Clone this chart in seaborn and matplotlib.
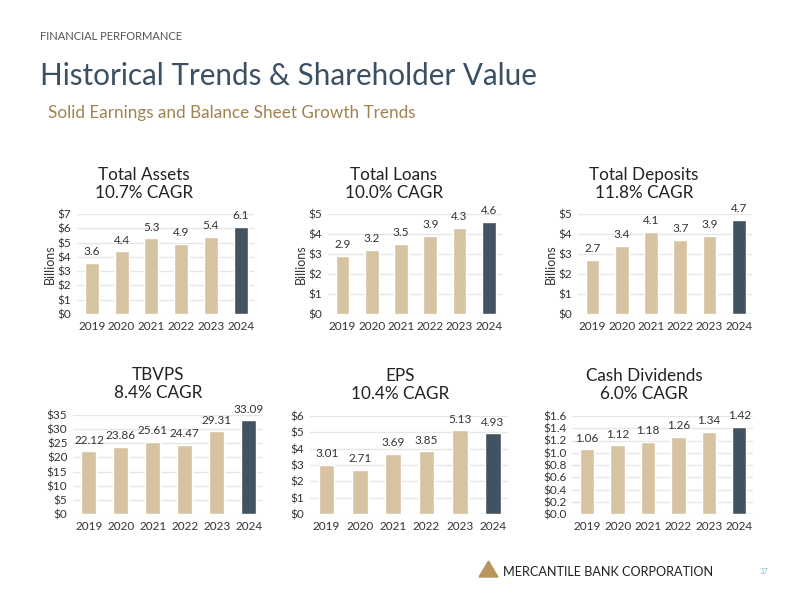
import numpy as np
import pandas as pd
import matplotlib
matplotlib.use('Agg')
import matplotlib.pyplot as plt
import seaborn as sns

sns.set_style('white')
plt.rcParams['font.family'] = ['Lato', 'DejaVu Sans']

# -----------------------

years = ['2019', '2020', '2021', '2022', '2023', '2024']

assets = [3.6, 4.4, 5.3, 4.9, 5.4, 6.1]
loans = [2.9, 3.2, 3.5, 3.9, 4.3, 4.6]
deposits = [2.7, 3.4, 4.1, 3.7, 3.9, 4.7]
tbvps = [22.12, 23.86, 25.61, 24.47, 29.31, 33.09]
eps = [3.01, 2.71, 3.69, 3.85, 5.13, 4.93]
dividends = [1.06, 1.12, 1.18, 1.26, 1.34, 1.42]

titles = ['Total Assets', 'Total Loans', 'Total Deposits', 'TBVPS', 'EPS', 'Cash Dividends']
cagr = ['10.7% CAGR', '10.0% CAGR', '11.8% CAGR', '8.4% CAGR', '10.4% CAGR', '6.0% CAGR']

tan = '#D6C3A1'
dark = '#435260'
txt = '#333333'

# -----------------------

W, H = 800, 600
fig = plt.figure(figsize=(8, 6), dpi=100)

def px_axes(x0, x1, y_top, y_bot):
	return fig.add_axes([x0 / W, 1 - y_bot / H, (x1 - x0) / W, (y_bot - y_top) / H])

# values, decimals, ymax, yticks, tick fmt, ylabel, axes box (px), title x
panels = [
	(assets, 1, 7, np.arange(0, 8, 1), '${:.0f}', 'Billions', (77, 254, 214, 314), 144),
	(loans, 1, 5, np.arange(0, 6, 1), '${:.0f}', 'Billions', (328, 502, 214, 314), 394),
	(deposits, 1, 5, np.arange(0, 6, 1), '${:.0f}', 'Billions', (578, 752, 214, 314), 644),
	(tbvps, 2, 35, np.arange(0, 40, 5), '${:.0f}', None, (73, 263, 415, 514), 158),
	(eps, 2, 6, np.arange(0, 7, 1), '${:.0f}', None, (310, 508, 416, 514), 400),
	(dividends, 2, 1.6, np.arange(0, 1.8, 0.2), '${:.1f}', None, (572, 753, 416, 514), 644),
]

for i, (vals, dec, ymax, yt, tfmt, ylab, box, tx) in enumerate(panels):
	ax = px_axes(*box)
	df = pd.DataFrame({'year': years, 'value': vals})
	sns.barplot(data=df, x='year', y='value', hue='year',
		palette=[tan] * 5 + [dark], legend=False, width=0.47,
		saturation=1, errorbar=None, ax=ax)
	ax.set_xlim(-0.5, 5.45)
	ax.set_ylim(0, ymax)
	ax.set_yticks(yt)
	ax.set_yticklabels([tfmt.format(v) for v in yt])
	ax.set_xlabel('')
	ax.set_ylabel(ylab if ylab else '', fontsize=9, color=txt, labelpad=1)
	ax.grid(axis='y', color='#E6E6E6', lw=1)
	ax.set_axisbelow(True)
	sns.despine(ax=ax, left=True, bottom=True)
	ax.tick_params(axis='both', length=0, labelsize=8.5, colors=txt)
	ax.tick_params(axis='y', pad=4)
	ax.tick_params(axis='x', pad=5)
	fmt = '{:.%df}' % dec
	for p in ax.patches:
		h = p.get_height()
		if not np.isfinite(h) or p.get_width() == 0:
			continue
		ax.annotate(fmt.format(h), (p.get_x() + p.get_width() / 2, h),
			xytext=(0, 4), textcoords='offset points', ha='center', va='bottom',
			fontsize=8.5, color=txt)
	ty = box[2] - 40 + (1 if i < 3 else 0)
	fig.text(tx / W, 1 - ty / H, titles[i], ha='center', va='center',
		fontsize=12.3, color='#222222')
	fig.text(tx / W, 1 - (ty + 18) / H, cagr[i], ha='center', va='center',
		fontsize=12.3, color='#222222')

# header
fig.text(40 / W, 1 - 37 / H, 'FINANCIAL PERFORMANCE', fontsize=8, color='#555555',
	va='center')
fig.text(40 / W, 1 - 76 / H, 'Historical Trends & Shareholder Value', fontsize=21.3,
	color='#3C5064', va='center')
fig.text(48 / W, 1 - 113 / H, 'Solid Earnings and Balance Sheet Growth Trends',
	fontsize=12.3, color='#A0824F', va='center')

# footer
tri = plt.Polygon([[479 / W, 1 - 577 / H], [498 / W, 1 - 577 / H], [488.5 / W, 1 - 561 / H]],
	closed=True, color='#B8965E', transform=fig.transFigure)
fig.patches.append(tri)
fig.text(503 / W, 1 - 572 / H, 'MERCANTILE BANK CORPORATION', fontsize=9.1,
	color='#222222', va='center')
fig.text(760 / W, 1 - 572 / H, '37', fontsize=5.5, color='#8FB8C8', va='center')

plt.savefig('out.png', dpi=100)
